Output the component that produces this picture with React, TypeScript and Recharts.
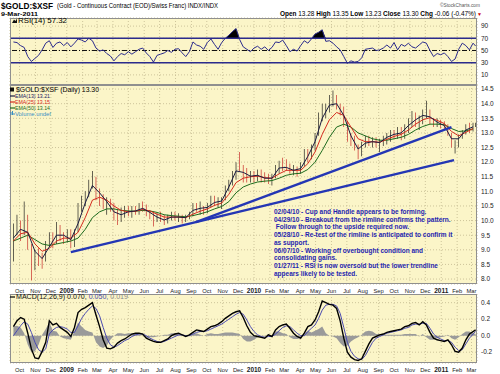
import React from "react";
import {
  ComposedChart,
  Line,
  Bar,
  Area,
  XAxis,
  YAxis,
  CartesianGrid,
  ReferenceLine,
  Cell,
} from "recharts";

const FONT = "'Liberation Sans', Arial, Helvetica, sans-serif";
const PANEL_BG = "#FBF5C8";
const GRID = "#cdc49a";
const NAVY = "#2b2b8c";
const TREND = "#2436b4";
const NOTE = "#1f1fb0";

// weekly bars, first one is the week ending 19-Sep-2008, last one is 9-Mar-2011
const START = Date.UTC(2008, 8, 19);
const WEEK = 7 * 86400000;
const LAST_W = (Date.UTC(2011, 2, 9) - START) / WEEK;
const X_DOMAIN = [-0.95, 129.1];

const months = [
  "Oct", "Nov", "Dec", "2009", "Feb", "Mar", "Apr", "May", "Jun", "Jul", "Aug", "Sep",
  "Oct", "Nov", "Dec", "2010", "Feb", "Mar", "Apr", "May", "Jun", "Jul", "Aug", "Sep",
  "Oct", "Nov", "Dec", "2011", "Feb", "Mar",
];
const monthTicks = months.map((_, k) => (Date.UTC(2008, 9 + k, 1) - START) / WEEK);

const highs = [
  9.9, 10.2, 10.0, 10.65, 10.2, 9.2, 9.0, 9.05, 8.9, 9.3,
  9.6, 9.6, 9.95, 9.85, 9.6, 9.7, 9.7, 9.7, 10.6, 10.85,
  11.0, 11.4, 11.7, 11.5, 11.1, 10.9, 10.8, 10.75, 10.6, 10.4,
  10.45, 10.5, 10.5, 10.5, 10.5, 10.6, 10.65, 10.55, 10.35, 10.3,
  10.25, 10.3, 10.2, 10.2, 10.3, 10.3, 10.25, 10.2, 10.2, 10.3,
  10.6, 10.6, 10.65, 10.5, 10.6, 10.85, 10.85, 10.8, 10.8, 11.2,
  11.4, 11.7, 12.0, 12.35, 11.9, 11.8, 11.7, 11.7, 11.75, 11.75,
  11.65, 11.6, 11.6, 11.9, 12.05, 12.15, 12.1, 11.95, 11.9, 11.85,
  12.0, 12.45, 12.45, 12.6, 13.0, 13.7, 14.0, 14.0, 14.3, 14.45,
  14.3, 14.0, 13.9, 13.4, 13.0, 12.9, 12.6, 12.7, 12.9, 12.9,
  12.85, 12.85, 12.8, 12.9, 13.0, 13.1, 13.1, 13.2, 13.2, 13.3,
  13.5, 13.75, 13.7, 13.6, 13.8, 14.1, 13.8, 13.5, 13.5, 13.45,
  13.4, 13.3, 13.0, 12.75, 12.95, 13.1, 13.3, 13.35, 13.35, 13.35,
];
const lows = [
  8.6, 9.5, 9.3, 9.5, 9.0, 7.95, 8.3, 8.45, 8.35, 8.6,
  9.1, 9.05, 9.2, 9.3, 9.2, 9.25, 9.05, 9.1, 9.6, 10.3,
  10.5, 10.8, 11.1, 10.7, 10.5, 10.4, 10.2, 10.3, 10.0, 9.85,
  9.95, 10.1, 10.15, 10.1, 10.2, 10.2, 10.3, 10.15, 10.05, 9.8,
  9.95, 9.95, 9.85, 9.9, 10.0, 10.0, 9.95, 9.9, 9.95, 10.05,
  10.15, 10.3, 10.2, 10.2, 10.25, 10.45, 10.5, 10.45, 10.4, 10.7,
  11.0, 11.2, 11.4, 11.7, 11.3, 11.3, 11.3, 11.3, 11.35, 11.3,
  11.3, 11.25, 11.2, 11.45, 11.6, 11.7, 11.7, 11.6, 11.55, 11.5,
  11.6, 11.85, 12.0, 12.1, 12.4, 12.9, 13.4, 13.5, 13.7, 13.9,
  13.8, 13.6, 13.2, 12.7, 12.55, 12.4, 12.1, 12.2, 12.5, 12.55,
  12.5, 12.5, 12.35, 12.55, 12.6, 12.7, 12.8, 12.8, 12.75, 12.8,
  13.0, 13.2, 13.2, 13.1, 13.3, 13.5, 13.3, 13.2, 13.2, 13.15,
  13.1, 12.9, 12.5, 12.3, 12.5, 12.8, 12.95, 13.0, 13.05, 13.2,
];
const closes = [
  9.7, 9.9, 9.5, 10.2, 9.1, 8.5, 8.8, 8.7, 8.6, 9.2,
  9.4, 9.2, 9.8, 9.45, 9.4, 9.55, 9.2, 9.6, 10.4, 10.7,
  10.9, 11.3, 11.4, 10.9, 10.7, 10.5, 10.6, 10.5, 10.1, 10.0,
  10.3, 10.4, 10.3, 10.4, 10.3, 10.5, 10.45, 10.25, 10.2, 10.1,
  10.1, 10.05, 9.95, 10.1, 10.2, 10.1, 10.1, 10.0, 10.15, 10.2,
  10.5, 10.4, 10.4, 10.35, 10.5, 10.7, 10.6, 10.65, 10.7, 11.1,
  11.3, 11.6, 11.9, 11.8, 11.5, 11.45, 11.55, 11.5, 11.6, 11.45,
  11.4, 11.35, 11.5, 11.8, 11.9, 11.85, 11.8, 11.7, 11.7, 11.6,
  11.9, 12.3, 12.2, 12.5, 12.9, 13.5, 13.7, 13.9, 14.1, 14.2,
  13.9, 13.8, 13.4, 12.8, 12.7, 12.5, 12.3, 12.6, 12.75, 12.7,
  12.7, 12.6, 12.7, 12.8, 12.9, 13.0, 12.9, 13.1, 12.95, 13.2,
  13.3, 13.6, 13.4, 13.5, 13.7, 13.8, 13.4, 13.3, 13.35, 13.3,
  13.2, 13.0, 12.6, 12.6, 12.9, 13.0, 13.2, 13.1, 13.3, 13.3,
];

// moving averages, read every second week
const ema13 = [
  9.4, 9.7, 9.6, 8.95, 8.7, 9.1, 9.5, 9.5, 9.35, 9.9,
  10.6, 11.2, 10.95, 10.65, 10.3, 10.2, 10.3, 10.33, 10.42, 10.28,
  10.12, 10.02, 10.12, 10.12, 10.1, 10.35, 10.42, 10.45, 10.62, 10.67,
  11.15, 11.7, 11.65, 11.52, 11.55, 11.45, 11.45, 11.8, 11.82, 11.72,
  11.78, 12.2, 12.7, 13.5, 13.95, 14.0, 13.6, 12.9, 12.45, 12.65,
  12.7, 12.67, 12.85, 12.95, 13.0, 13.25, 13.45, 13.6, 13.55, 13.37,
  13.25, 12.8, 12.8, 13.1, 13.21,
];
const ema25 = [
  9.3, 9.55, 9.6, 9.2, 8.95, 9.05, 9.3, 9.4, 9.4, 9.6,
  10.1, 10.7, 10.8, 10.7, 10.5, 10.35, 10.3, 10.32, 10.38, 10.33,
  10.22, 10.12, 10.12, 10.12, 10.1, 10.22, 10.32, 10.4, 10.52, 10.6,
  10.9, 11.3, 11.45, 11.5, 11.52, 11.47, 11.45, 11.6, 11.72, 11.72,
  11.72, 11.95, 12.35, 12.95, 13.45, 13.7, 13.6, 13.2, 12.8, 12.7,
  12.7, 12.68, 12.78, 12.88, 12.95, 13.1, 13.3, 13.45, 13.52, 13.43,
  13.32, 13.05, 12.9, 13.02, 13.15,
];
const ema50 = [
  9.3, 9.4, 9.5, 9.35, 9.2, 9.15, 9.2, 9.25, 9.3, 9.4,
  9.7, 10.1, 10.3, 10.4, 10.4, 10.35, 10.33, 10.32, 10.35, 10.33,
  10.28, 10.2, 10.17, 10.15, 10.13, 10.17, 10.23, 10.3, 10.4, 10.48,
  10.65, 10.95, 11.15, 11.25, 11.32, 11.35, 11.37, 11.45, 11.55, 11.6,
  11.62, 11.75, 12.0, 12.4, 12.85, 13.2, 13.3, 13.2, 13.0, 12.9,
  12.8, 12.75, 12.75, 12.8, 12.85, 12.95, 13.1, 13.22, 13.3, 13.3,
  13.28, 13.15, 13.05, 13.07, 13.14,
];

const rsi = [
  64, 63, 58, 55, 40, 32, 37, 42, 51, 62,
  66, 55, 62, 64, 58, 63, 56, 62, 69, 67,
  64, 70, 66, 54, 49, 51, 45, 41, 33, 40,
  45, 43, 48, 44, 48, 52, 54, 46, 40, 31,
  42, 44, 46, 50, 47, 52, 53, 46, 40, 48,
  64, 59, 57, 52, 63, 69, 60, 52, 63, 70,
  75, 81, 86, 68, 56, 52, 48, 54, 57, 52,
  56, 50, 55, 64, 63, 67, 58, 48, 52, 49,
  58, 66, 62, 69, 77, 80, 84, 65, 66, 62,
  56, 51, 40, 29, 33, 31, 32, 38, 52, 53,
  54, 50, 51, 54, 59, 54, 63, 51, 60, 57,
  62, 56, 54, 59, 64, 62, 50, 40, 45, 43,
  46, 40, 32, 36, 52, 62, 58, 51, 62, 57.32,
];

const macd = [
  0.11, 0.18, 0.22, 0.2, 0.03, -0.16, -0.27, -0.28, -0.19, -0.08,
  0.18, 0.13, 0.15, 0.1, 0.07, 0.04, -0.01, 0.1, 0.28, 0.32,
  0.34, 0.37, 0.4, 0.25, 0.11, -0.05, -0.15, -0.16, -0.14, -0.09,
  -0.06, -0.04, -0.01, 0.02, 0.03, 0.03, 0.02, -0.03, -0.05, -0.07,
  -0.08, -0.08, -0.06, -0.04, 0.0, 0.02, 0.03, 0.01, -0.01, 0.01,
  0.04, 0.07, 0.06, 0.05, 0.08, 0.11, 0.12, 0.14, 0.17, 0.21,
  0.24, 0.27, 0.29, 0.3, 0.22, 0.12, 0.04, 0.0, -0.01, -0.02,
  -0.03, 0.01, -0.01, 0.07, 0.11, 0.13, 0.14, 0.09, 0.03, -0.01,
  -0.03, 0.03, 0.11, 0.13, 0.19, 0.29, 0.42, 0.4, 0.38, 0.37,
  0.33, 0.18, -0.03, -0.2, -0.26, -0.29, -0.3, -0.28, -0.19, -0.1,
  -0.03, -0.01, 0.01, 0.02, 0.04, 0.05, 0.06, 0.07, 0.08, 0.11,
  0.12, 0.15, 0.16, 0.13, 0.17, 0.13, 0.04, -0.03, -0.05, -0.06,
  -0.07, -0.05, -0.11, -0.19, -0.2, -0.15, -0.05, 0.02, 0.05, 0.07,
];
const signal = [
  0.0, 0.06, 0.12, 0.17, 0.14, 0.04, -0.08, -0.17, -0.2, -0.16,
  0.02, 0.07, 0.1, 0.11, 0.1, 0.08, 0.04, 0.04, 0.12, 0.21,
  0.27, 0.32, 0.36, 0.33, 0.24, 0.1, -0.03, -0.11, -0.14, -0.12,
  -0.09, -0.06, -0.04, -0.01, 0.01, 0.02, 0.02, 0.0, -0.03, -0.05,
  -0.07, -0.08, -0.07, -0.05, -0.03, -0.01, 0.01, 0.01, 0.0, 0.0,
  0.02, 0.04, 0.05, 0.05, 0.06, 0.08, 0.1, 0.12, 0.14, 0.17,
  0.2, 0.23, 0.26, 0.28, 0.26, 0.19, 0.11, 0.05, 0.01, -0.01,
  -0.02, -0.01, -0.01, 0.02, 0.06, 0.1, 0.12, 0.11, 0.07, 0.03,
  0.0, 0.0, 0.05, 0.09, 0.13, 0.21, 0.31, 0.37, 0.38, 0.38,
  0.36, 0.27, 0.1, -0.08, -0.19, -0.25, -0.28, -0.29, -0.24, -0.16,
  -0.08, -0.03, -0.01, 0.01, 0.03, 0.04, 0.05, 0.06, 0.07, 0.09,
  0.1, 0.13, 0.14, 0.14, 0.15, 0.15, 0.09, 0.02, -0.02, -0.04,
  -0.06, -0.06, -0.08, -0.14, -0.18, -0.17, -0.1, -0.03, 0.02, 0.05,
];

// hand drawn trendlines (week, price)
const lowerTrend = [{ w: 16.0, p: 8.92 }, { w: 122.7, p: 12.07 }];
const upperTrend = [{ w: 50.8, p: 9.95 }, { w: 122.0, p: 13.2 }];

const priceTicks = [8, 8.5, 9, 9.5, 10, 10.5, 11, 11.5, 12, 12.5, 13, 13.5, 14, 14.5];
const rsiTicks = [10, 30, 50, 70, 90];
const macdTicks = [-0.2, 0, 0.2, 0.4];

const notes = [
  "02/04/10 - Cup and Handle appears to be forming.",
  "04/29/10 - Breakout from the rimline confirms the pattern.",
  " Follow through to the upside required now.",
  "05/28/10 - Re-test of the rimline is anticipated to confirm it",
  "as support.",
  "06/07/10 - Working off overbought condition and",
  "consolidating gains.",
  "01/27/11 - RSI is now oversold but the lower trendline",
  "appears likely to be tested.",
];

const weekly = closes.map((c, i) => ({
  w: i === closes.length - 1 ? LAST_W : i,
  hl: [lows[i], highs[i]],
  up: i === 0 || c >= closes[i - 1],
  rsi: rsi[i],
  ob: [70, Math.max(70, rsi[i])],
  macd: macd[i],
  signal: signal[i],
  hist: macd[i] - signal[i],
}));

const emaRows = (vals: number[]) => vals.map((v, k) => ({ w: k * 2, v }));

const yTick = { fontSize: 6.5, fill: "#222", fontFamily: FONT };

function MonthTick(props: any) {
  const { x, y, payload } = props;
  const idx = monthTicks.findIndex((t) => Math.abs(t - payload.value) < 1e-6);
  const label = months[idx] ?? "";
  const isYear = /^\d{4}$/.test(label);
  return (
    <text
      x={x}
      y={y + 7}
      textAnchor="middle"
      fontFamily={FONT}
      fontSize={isYear ? 6.5 : 5.8}
      fontWeight={isYear ? "bold" : "normal"}
      fill="#222"
    >
      {label}
    </text>
  );
}

const xAxisProps = {
  dataKey: "w",
  type: "number" as const,
  domain: X_DOMAIN,
  ticks: monthTicks,
  interval: 0 as const,
  allowDataOverflow: true,
  tickLine: false,
  axisLine: false,
  tickSize: 0,
};

const yAxisBase = {
  orientation: "right" as const,
  width: 23,
  tickLine: false,
  axisLine: false,
  tickSize: 0,
  tickMargin: 4,
  interval: 0 as const,
  allowDataOverflow: true,
  tick: yTick,
};

function RsiPanel() {
  return (
    <ComposedChart width={500} height={85} data={weekly} margin={{ top: 18, right: 0, bottom: 0, left: 10 }}>
      <CartesianGrid stroke={GRID} strokeDasharray="1 2" />
      <XAxis {...xAxisProps} hide />
      <YAxis {...yAxisBase} domain={[-6.6, 103.3]} ticks={rsiTicks} />
      <ReferenceLine y={70} stroke={NAVY} strokeWidth={1.4} />
      <ReferenceLine y={30} stroke={NAVY} strokeWidth={1.4} />
      <ReferenceLine y={50} stroke="#111" strokeDasharray="5 2 1 2" />
      <Area dataKey="ob" type="linear" fill="#000" fillOpacity={1} stroke="none" isAnimationActive={false} />
      <Line dataKey="rsi" type="linear" stroke={NAVY} strokeWidth={1} dot={false} isAnimationActive={false} />
    </ComposedChart>
  );
}

function PricePanel() {
  return (
    <ComposedChart width={500} height={213} data={weekly} margin={{ top: 0, right: 0, bottom: 0, left: 10 }}>
      <CartesianGrid stroke={GRID} strokeDasharray="1 2" />
      <XAxis {...xAxisProps} height={14} tick={<MonthTick />} />
      <YAxis
        {...yAxisBase}
        domain={[7.83, 14.64]}
        ticks={priceTicks}
        tickFormatter={(v: number) => v.toFixed(1)}
      />
      <Bar dataKey="hl" barSize={3} isAnimationActive={false}>
        {weekly.map((d, i) => (
          <Cell key={i} fill={d.up ? "#111" : "#c41c1c"} />
        ))}
      </Bar>
      <Line data={emaRows(ema50)} dataKey="v" stroke="#1d6b1d" strokeWidth={1} dot={false} isAnimationActive={false} />
      <Line data={emaRows(ema25)} dataKey="v" stroke="#d42a1e" strokeWidth={1} dot={false} isAnimationActive={false} />
      <Line data={emaRows(ema13)} dataKey="v" stroke="#1a1a40" strokeWidth={1} dot={false} isAnimationActive={false} />
      <Line data={lowerTrend} dataKey="p" stroke={TREND} strokeWidth={2.4} dot={false} isAnimationActive={false} />
      <Line data={upperTrend} dataKey="p" stroke={TREND} strokeWidth={2.4} dot={false} isAnimationActive={false} />
    </ComposedChart>
  );
}

function MacdPanel() {
  return (
    <ComposedChart width={500} height={80} data={weekly} margin={{ top: 0, right: 0, bottom: 0, left: 10 }}>
      <CartesianGrid stroke={GRID} strokeDasharray="1 2" />
      <XAxis {...xAxisProps} height={11} tick={<MonthTick />} />
      <YAxis
        {...yAxisBase}
        domain={[-0.331, 0.505]}
        ticks={macdTicks}
        tickFormatter={(v: number) => v.toFixed(1)}
      />
      <Area dataKey="hist" type="linear" fill="#9a9a9a" fillOpacity={1} stroke="none" baseValue={0} isAnimationActive={false} />
      <Line dataKey="signal" stroke="#4a4ab0" strokeWidth={1} dot={false} isAnimationActive={false} />
      <Line dataKey="macd" stroke="#000" strokeWidth={1.4} dot={false} isAnimationActive={false} />
    </ComposedChart>
  );
}

const panels = [
  { top: 18, height: 67 },
  { top: 85, height: 199 },
  { top: 294, height: 69 },
];

export default function App() {
  return (
    <div style={{ position: "absolute", left: 0, top: 0, width: 500, height: 374, background: "#fff", overflow: "hidden" }}>
      {panels.map((p, i) => (
        <div key={i} style={{ position: "absolute", left: 10, top: p.top, width: 467, height: p.height, background: PANEL_BG }} />
      ))}
      <div style={{ position: "absolute", left: 0, top: 0 }}>
        <RsiPanel />
      </div>
      <div style={{ position: "absolute", left: 0, top: 85 }}>
        <PricePanel />
      </div>
      <div style={{ position: "absolute", left: 0, top: 294 }}>
        <MacdPanel />
      </div>
      <svg width={500} height={374} style={{ position: "absolute", left: 0, top: 0, pointerEvents: "none" }} fontFamily={FONT}>
        {panels.map((p, i) => (
          <rect key={i} x={10.5} y={p.top + 0.5} width={466} height={p.height - 1} fill="none" stroke="#8f8f8f" />
        ))}
        <text x={1} y={8.5} fontSize={9} fontWeight="bold" textLength={52} lengthAdjust="spacingAndGlyphs">$GOLD:$XSF</text>
        <text x={57} y={8} fontSize={6.3} textLength={161} lengthAdjust="spacingAndGlyphs">(Gold - Continuous Contract (EOD)/Swiss Franc) INDX/INDX</text>
        <text x={1} y={16} fontSize={6} fontWeight="bold" textLength={37} lengthAdjust="spacingAndGlyphs">9-Mar-2011</text>
        <text x={440} y={6.5} fontSize={6} fill="#555" textLength={40} lengthAdjust="spacingAndGlyphs">©StockCharts.com</text>
        <text x={280} y={15.5} fontSize={6.3} textLength={196} lengthAdjust="spacingAndGlyphs">
          <tspan fontWeight="bold">Open </tspan>
          <tspan>13.28 </tspan>
          <tspan fontWeight="bold">High </tspan>
          <tspan>13.35 </tspan>
          <tspan fontWeight="bold">Low </tspan>
          <tspan>13.23 </tspan>
          <tspan fontWeight="bold">Close </tspan>
          <tspan>13.30 </tspan>
          <tspan fontWeight="bold">Chg </tspan>
          <tspan>-0.06 (-0.47%)</tspan>
        </text>
        <text x={477} y={15.5} fontSize={5} fill="#c00">▼</text>

        <path d="M12 23 L14 19.5 L15.5 21 L17 18.5 L17 23 Z" fill="#111" />
        <text x={18} y={23} fontSize={6.5} textLength={49} lengthAdjust="spacingAndGlyphs">RSI(14) 57.32</text>

        <rect x={10} y={87.5} width={4} height={4} fill="#111" />
        <text x={16} y={92} fontSize={6.5} textLength={83} lengthAdjust="spacingAndGlyphs">$GOLD:$XSF (Daily) 13.30</text>
        <line x1={10} y1={96} x2={15} y2={96} stroke="#1a1a40" strokeWidth={1.2} />
        <text x={15} y={98} fontSize={5.8} fill="#1a1a60" textLength={35} lengthAdjust="spacingAndGlyphs">EMA(13) 13.21</text>
        <line x1={10} y1={102} x2={15} y2={102} stroke="#d42a1e" strokeWidth={1.2} />
        <text x={15} y={104} fontSize={5.8} fill="#d42a1e" textLength={35} lengthAdjust="spacingAndGlyphs">EMA(25) 13.15</text>
        <line x1={10} y1={108} x2={15} y2={108} stroke="#1d6b1d" strokeWidth={1.2} />
        <text x={15} y={110} fontSize={5.8} fill="#1d6b1d" textLength={35} lengthAdjust="spacingAndGlyphs">EMA(50) 13.14</text>
        <path d="M11 115 V112 M12.5 115 V111 M14 115 V113" stroke="#3a8fc4" strokeWidth={1} />
        <text x={15} y={116} fontSize={5.8} fill="#3a8fc4" textLength={36} lengthAdjust="spacingAndGlyphs">Volume undef</text>

        {notes.map((n, i) => (
          <text key={i} x={274} y={214 + i * 7.7} fontSize={6.5} fontWeight="bold" fill={NOTE} style={{ whiteSpace: "pre" }}>
            {n}
          </text>
        ))}

        <line x1={10} y1={297} x2={15} y2={297} stroke="#000" strokeWidth={1.2} />
        <text x={16} y={299} fontSize={6.3} textLength={112} lengthAdjust="spacingAndGlyphs">
          <tspan fill="#111">MACD(12,26,9) 0.070, </tspan>
          <tspan fill="#4a4ab0">0.050, </tspan>
          <tspan fill="#888">0.019</tspan>
        </text>
      </svg>
    </div>
  );
}
